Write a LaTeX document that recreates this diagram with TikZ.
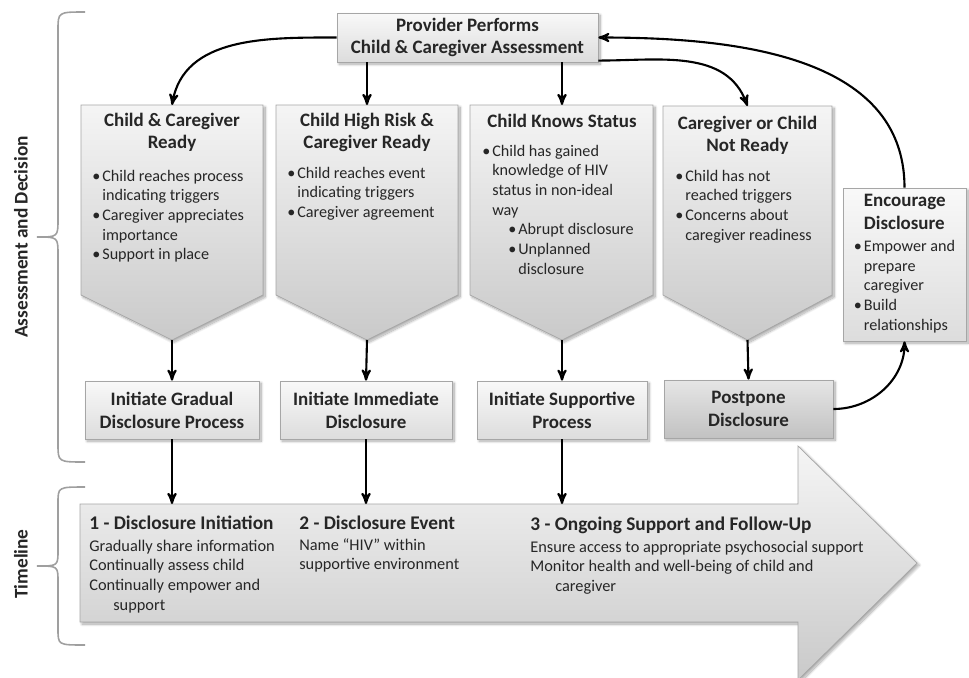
\documentclass[tikz,border=0pt]{standalone}
\usepackage{fontspec}
\setmainfont{Carlito}
\usetikzlibrary{arrows,calc,positioning,shadows.blur}
\tikzstyle{chev}=[draw=gray!70,top color=gray!8,bottom color=gray!42,blur shadow={shadow blur steps=15,shadow xshift=1.2pt,shadow yshift=-1.2pt,shadow blur radius=1.5pt,shadow opacity=35}]
\tikzstyle{ib}=[rectangle,draw=gray!70,top color=gray!5,bottom color=gray!27,minimum width=3.44cm,minimum height=1.16cm,align=center,inner sep=0pt,font=\fontsize{10.8}{13}\selectfont\bfseries,blur shadow={shadow blur steps=15,shadow xshift=1.2pt,shadow yshift=-1.2pt,shadow blur radius=1.5pt,shadow opacity=35}]
\tikzstyle{ibd}=[ib,top color=gray!20,bottom color=gray!48]
\tikzstyle{ttl}=[inner sep=0pt,anchor=base,font=\fontsize{10.8}{13}\selectfont\bfseries]
\tikzstyle{bul}=[inner sep=0pt,anchor=base west,font=\fontsize{9.2}{11.2}\selectfont]
\tikzstyle{tlh}=[inner sep=0pt,anchor=base west,font=\fontsize{11}{13}\selectfont\bfseries]
\tikzstyle{arr}=[-stealth',line width=1.2pt]
\tikzstyle{brc}=[draw=gray!75,line width=0.9pt]
\newcommand{\bl}{\makebox[0.2cm][l]{\textbullet}}

\begin{document}
\begin{tikzpicture}[x=0.02cm,y=-0.02cm,text=black!85]
	\useasboundingbox (0,0) rectangle (969,677);
	\draw[brc] (85,12) .. controls (58,12) .. (58,30) -- (58,219) .. controls (58,237) .. (37,237) .. controls (58,237) .. (58,255) -- (58,444) .. controls (58,462) .. (85,462);
	\draw[brc] (85,487) .. controls (58,487) .. (58,503) -- (58,550) .. controls (58,566) .. (37,566) .. controls (58,566) .. (58,582) -- (58,629) .. controls (58,645) .. (85,645);
	\node (lad) [rotate=90,font=\fontsize{11}{13}\selectfont\bfseries] at (21,237) {Assessment and Decision};
	\node (ltl) [rotate=90,font=\fontsize{11}{13}\selectfont\bfseries] at (21,564) {Timeline};
	\path[chev] (80,504) -- (798,504) -- (798,446) -- (917,563) -- (798,680) -- (798,622) -- (80,622) -- cycle;
	\coordinate (tltop) at (0,504);
	\node (assess) [ib,minimum width=5.22cm,minimum height=0.98cm] at (467.5,37.5) {Provider Performs\\Child \& Caregiver Assessment};
	\path[chev] (81,105) -- (263,105) -- (263,295) -- (172,340) -- (81,295) -- cycle;
	\path[chev] (276,105) -- (458,105) -- (458,295) -- (367,340) -- (276,295) -- cycle;
	\path[chev] (470,105) -- (653,105) -- (653,295) -- (562,340) -- (470,295) -- cycle;
	\path[chev] (663,106) -- (832,106) -- (832,295) -- (747.5,340) -- (663,295) -- cycle;
	\coordinate (c1t) at (172,105);
	\coordinate (c2t) at (367,105);
	\coordinate (c3t) at (562,105);
	\coordinate (c4t) at (747.5,106);
	\coordinate (c1b) at (172,340);
	\coordinate (c2b) at (367,340);
	\coordinate (c3b) at (562,340);
	\coordinate (c4b) at (747.5,340);
	\node (c1h) [ttl] at (172,126) {\begin{tabular}[t]{@{}c@{}}Child \& Caregiver\\Ready\end{tabular}};
	\node (c2h) [ttl] at (367,126) {\begin{tabular}[t]{@{}c@{}}Child High Risk \&\\Caregiver Ready\end{tabular}};
	\node (c3h) [ttl] at (562,127) {Child Knows Status};
	\node (c4h) [ttl] at (747.5,129) {\begin{tabular}[t]{@{}c@{}}Caregiver or Child\\Not Ready\end{tabular}};
	\node (c1l) [bul] at (92,181) {\begin{tabular}[t]{@{}l@{}l@{}}\bl&Child reaches process\\&indicating triggers\\\bl&Caregiver appreciates\\&importance\\\bl&Support in place\end{tabular}};
	\node (c2l) [bul] at (287,178) {\begin{tabular}[t]{@{}l@{}l@{}}\bl&Child reaches event\\&indicating triggers\\\bl&Caregiver agreement\end{tabular}};
	\node (c3l) [bul] at (482,156) {\begin{tabular}[t]{@{}l@{}l@{}}\bl&Child has gained\\&knowledge of HIV\\&status in non-ideal\\&way\\&\hspace*{0.32cm}\bl Abrupt disclosure\\&\hspace*{0.32cm}\bl Unplanned\\&\hspace*{0.52cm}disclosure\end{tabular}};
	\node (c4l) [bul] at (675,181) {\begin{tabular}[t]{@{}l@{}l@{}}\bl&Child has not\\&reached triggers\\\bl&Concerns about\\&caregiver readiness\end{tabular}};
	\node (enc) [ib,font=\fontsize{9.2}{11.2}\selectfont,minimum width=2.46cm,minimum height=3.06cm] at (904.5,264.5) {\begin{tabular}{@{}l@{}l@{}}&{\fontsize{10.8}{13}\selectfont\bfseries Encourage}\\[2pt]&{\fontsize{10.8}{13}\selectfont\bfseries Disclosure}\\[1pt]\bl&Empower and\\&prepare\\&caregiver\\\bl&Build\\&relationships\end{tabular}};
	\node (gd) [ib,minimum width=3.48cm] at (172,410) {Initiate Gradual\\Disclosure Process};
	\node (im) [ib] at (366,410) {Initiate Immediate\\Disclosure};
	\node (sp) [ib,minimum width=3.4cm] at (562,410) {Initiate Supportive\\Process};
	\node (pd) [ibd,minimum width=3.38cm] at (748.5,409) {Postpone\\Disclosure};
	\node (h1) [tlh] at (89,529) {1 - Disclosure Initiation};
	\node (b1) [bul,font=\fontsize{9.3}{11.2}\selectfont] at (89,551) {\begin{tabular}[t]{@{}l@{}}Gradually share information\\Continually assess child\\Continually empower and\\\hspace*{0.48cm}support\end{tabular}};
	\node (h2) [tlh] at (299,529) {2 - Disclosure Event};
	\node (b2) [bul,font=\fontsize{9.3}{11.2}\selectfont] at (299,550) {\begin{tabular}[t]{@{}l@{}}Name “HIV” within\\supportive environment\end{tabular}};
	\node (h3) [tlh] at (530,530) {3 - Ongoing Support and Follow-Up};
	\node (b3) [bul,font=\fontsize{9.3}{11.2}\selectfont] at (530,552) {\begin{tabular}[t]{@{}l@{}}Ensure access to appropriate psychosocial support\\Monitor health and well-being of child and\\\hspace*{0.5cm}caregiver\end{tabular}};
	\draw[arr] (assess.west) to[out=180,in=80] (c1t);
	\draw[arr] (assess.south -| c2t) -- (c2t);
	\draw[arr] (assess.south -| c3t) -- (c3t);
	\draw[arr] (assess.-10) to[out=0,in=110] (c4t);
	\draw[arr] (enc.north) to[out=90,in=0] (assess.east);
	\draw[arr] (pd.east) to[out=0,in=-90] (enc.south);
	\draw[arr] (c1b) -- (gd.north);
	\draw[arr] (c2b) -- (im.north);
	\draw[arr] (c3b) -- (sp.north);
	\draw[arr] (c4b) -- (pd.north);
	\draw[arr] (gd.south) -- (gd.south |- tltop);
	\draw[arr] (im.south) -- (im.south |- tltop);
	\draw[arr] (sp.south) -- (sp.south |- tltop);
\end{tikzpicture}
\end{document}
